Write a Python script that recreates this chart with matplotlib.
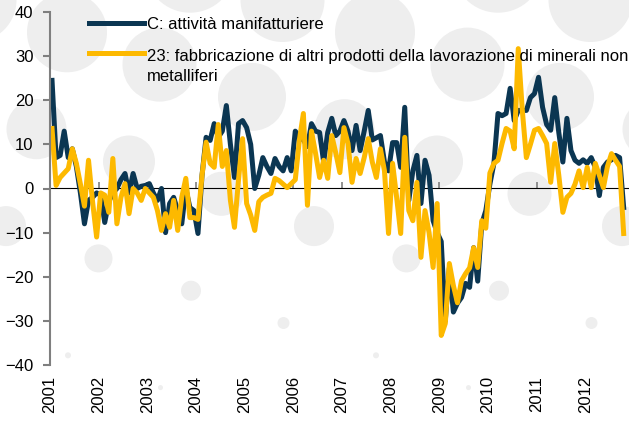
import numpy as np
import matplotlib.pyplot as plt
from matplotlib.patches import Circle
from matplotlib.legend_handler import HandlerLine2D

# monthly values, Jan 2001 - Oct 2012
years = list(range(2001, 2013))
manifattura = (
    [24.5, 7, 7.5, 13, 7, 9, 5, -1, -8, -2.7, -2, -1]
    + [-1.5, -7.7, -3, -1, 0, 2, 3.4, -1, 3.4, 0, 0.5, 0.7]
    + [1.1, -1, -2.7, 0, -10, -3.4, -2, -5, -8, 0, -4.3, -5]
    + [-10.2, 3, 11.6, 10.9, 14.7, 11.6, 13, 18.8, 10, 2.5, 14.7, 15.4]
    + [13.8, 10, 0, 3, 7, 5, 3.4, 6.8, 5, 4, 7, 4]
    + [13, 11.6, 11, 9.5, 14.7, 13, 12.7, 6, 12.7, 15.9, 12, 13]
    + [15.4, 13, 8.6, 14.3, 8.6, 13, 17.7, 11, 11.5, 12, 6, 4]
    + [10.4, 10.4, 4.8, 18.4, -2.7, 4, 7.5, -3.4, 6.4, 3, -7.3, -10]
    + [-12, -30, -18, -28, -26, -24.7, -21.5, -22.4, -13.4, -21, -8, -5]
    + [1, 5.7, 17, 16.5, 17, 22.7, 15.4, 17.7, 17.7, 17.7, 20.6, 21.5]
    + [25.2, 18.4, 14.5, 13.2, 20.6, 12.7, 6, 15.9, 8.6, 6.4, 5.7, 6.5]
    + [5.7, 7, 4.8, -1.6, 4.8, 6, 6.5, 7.5, 7, -4.3]
)
minerali = (
    [13.6, 0.7, 2.5, 3.5, 4.5, 9, 5.7, 1, -4, 6.4, -3, -11]
    + [-1, -1.5, -5.4, 6.8, -8, -2, 1.1, -5.7, 0, -1, -2.7, 0]
    + [-1, -2, -5, -9.5, -5.7, -8.8, -2.7, -9.5, -2, 2.3, -6.6, -6.6]
    + [-7, 3, 10.5, 5.7, 4.8, 14.5, 5, 8.6, -2.7, -8.8, 2, 11.3]
    + [-3.4, -6, -9.5, -3, -2, -1.5, -1.1, 2.3, 1.8, 1, 0.2, 1.1]
    + [2, 10.9, 17, -3.8, 13, 8, 2.5, 6.4, 2.3, 12, 8, 3.6]
    + [13.8, 10.2, 1.4, 6.8, 3.4, 7, 11.3, 6, 2.5, 9, 4, -10.2]
    + [5.7, -2, -10.2, 11.6, -5, -7.3, 1.4, -15.6, -5, -10, -17.9, -3.4]
    + [-33.3, -30.6, -17, -22, -25.9, -20.9, -19.3, -18, -13.4, -17.9, -7.3, -9]
    + [3.5, 5.7, 6.4, 10.2, 13.6, 13, 9, 31.7, 17.7, 7, 10, 13.2]
    + [13.6, 12, 10.2, 1.4, 10.2, 3, -5.4, -2, -1.1, 1, 4, 0.2]
    + [4.8, 0.2, 5.7, 3, 0.2, 5, 7.9, 6.4, 5, -10.2]
)
labels = ['C: attività manifatturiere',
          '23: fabbricazione di altri prodotti della lavorazione di minerali non\nmetalliferi']

x = 2001 + (np.arange(len(manifattura)) + 0.5) / 12

plt.rcParams['font.family'] = ['Liberation Sans', 'DejaVu Sans']
grey = '#7f7f7f'


class FirstLineHandler(HandlerLine2D):
    # put the legend line level with the first line of a two-line label
    def create_artists(self, *args, **kwargs):
        arts = super().create_artists(*args, **kwargs)
        for a in arts:
            a.set_ydata(np.asarray(a.get_ydata(), float) + 9.5)
        return arts


fig = plt.figure(figsize=(6.29, 4.21), dpi=100)

# decorative dot pattern in the background (pixel coordinates)
bg = fig.add_axes([0, 0, 1, 1], zorder=0)
bg.set_xlim(0, 629)
bg.set_ylim(421, 0)
bg.axis('off')
radii = [45, 42, 40, 37, 34, 30, 26, 22, 20, 14, 10, 6, 3, 2.5]
for j, r in zip(range(-1, 13), radii):
    yc = 32.3 * j
    x0 = (67 + 92.5 * (j - 1)) % 308
    for xc in (x0 - 308, x0, x0 + 308, x0 + 616):
        bg.add_patch(Circle((xc, yc), r, color='#eeeeee', lw=0))

ax = fig.add_axes([50 / 629, 1 - 365 / 421, 579 / 629, 353 / 421], zorder=1)
ax.patch.set_alpha(0)

l1, = ax.plot(x, manifattura, color='#0b3652', lw=3.6, label=labels[0])
l2, = ax.plot(x, minerali, color='#fdb900', lw=3.6, label=labels[1])

ax.set_xlim(2001, 2001 + 579 / 48.65)
ax.set_ylim(-40, 40)
ax.set_yticks(range(-40, 41, 10))
ax.set_xticks(years)
ax.set_xticklabels([str(y) for y in years])

for s in ['top', 'right', 'bottom']:
    ax.spines[s].set_visible(False)
ax.spines['left'].set_color(grey)
ax.spines['left'].set_linewidth(1.5)
ax.tick_params(axis='y', length=5, width=1.5, color=grey, labelsize=12, pad=7)
ax.tick_params(axis='x', length=0, labelsize=12, labelrotation=90, pad=8)

# zero line with year ticks
zero = ax.secondary_xaxis(0.5)
zero.spines['bottom'].set_color(grey)
zero.spines['bottom'].set_linewidth(1.5)
zero.set_xticks(years)
zero.set_xticklabels([])
zero.tick_params(axis='x', length=4, width=1.2, color=grey)

leg = ax.legend(loc='upper left', bbox_to_anchor=(0.055, 1.005), frameon=False,
                fontsize=12, handlelength=3.3, handletextpad=0.2,
                labelspacing=1.0, borderaxespad=0,
                handler_map={l2: FirstLineHandler()})
for t in leg.get_texts():
    t.set_linespacing(1.45)

fig.savefig('out.png', dpi=100)
